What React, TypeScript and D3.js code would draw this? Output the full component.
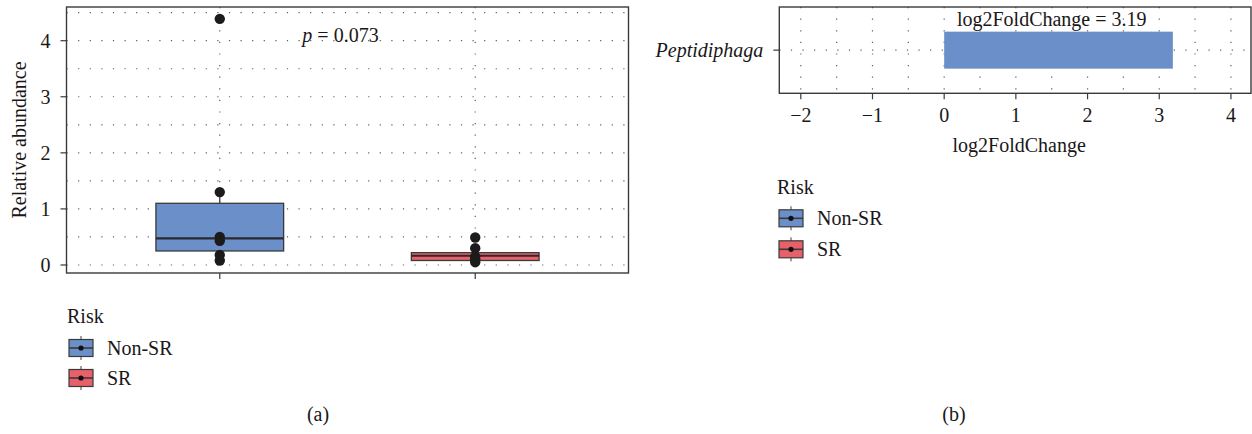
import React, { useEffect, useRef } from 'react';
import * as d3 from 'd3';

// panel (a): relative abundance by risk group
const groups = ['Non-SR', 'SR'];
const groupColors = ['#6A8FC9', '#E8606A'];
const lowerWhisker = [0.08, 0.05];
const firstQuartile = [0.25, 0.08];
const medians = [0.475, 0.165];
const thirdQuartile = [1.1, 0.22];
const upperWhisker = [1.3, 0.3];
const nonSrSamples = [4.39, 1.3, 0.5, 0.43, 0.18, 0.08];
const srSamples = [0.49, 0.3, 0.15, 0.1, 0.05];
const abundanceTicks = [0, 1, 2, 3, 4];
const pLabel = '0.073';

// panel (b): differential abundance
const genera = ['Peptidiphaga'];
const foldChanges = [3.19];
const foldTicks = [-2, -1, 0, 1, 2, 3, 4];

const FONT = '"Liberation Serif", "Times New Roman", serif';
const INK = '#1a1718';
const FRAME = '#3a3a3a';
const GRID = '#5e5e5e';

export default function App() {
    const ref = useRef<SVGSVGElement>(null);

    useEffect(() => {
        const svg = d3.select(ref.current);
        svg.selectAll('*').remove();
        svg.style('font-family', FONT).style('font-size', '20px');

        const dotted = (sel: any) =>
            sel.attr('stroke', GRID)
                .attr('stroke-width', 1.2)
                .attr('stroke-dasharray', '1.2 10.4');

        const legend = (g: any, x0: number, titleY: number, firstY: number, step: number) => {
            g.append('text')
                .attr('x', x0)
                .attr('y', titleY)
                .attr('dy', '0.35em')
                .attr('fill', INK)
                .text('Risk');
            const key = g.selectAll('g.key')
                .data(groups)
                .join('g')
                .attr('class', 'key')
                .attr('transform', (d: string, i: number) => `translate(${x0 + 2},${firstY + i * step})`);
            key.append('line')
                .attr('x1', 12).attr('x2', 12)
                .attr('y1', -12).attr('y2', 12)
                .attr('stroke', '#4a3a3a').attr('stroke-width', 1);
            key.append('rect')
                .attr('x', 0).attr('y', -8.5)
                .attr('width', 24).attr('height', 17)
                .attr('fill', (d: string, i: number) => groupColors[i])
                .attr('stroke', FRAME).attr('stroke-width', 1.2);
            key.append('line')
                .attr('x1', 0).attr('x2', 24)
                .attr('stroke', FRAME).attr('stroke-width', 1.6);
            key.append('circle')
                .attr('cx', 12).attr('r', 2.6)
                .attr('fill', '#111');
            key.append('text')
                .attr('x', 38)
                .attr('dy', '0.35em')
                .attr('fill', INK)
                .text((d: string) => d);
        };

        // ---------- panel (a) ----------
        const x = d3.scaleLinear().domain([0.4, 2.6]).range([66.5, 628.5]);
        const y = d3.scaleLinear().domain([-0.143, 4.601]).range([273, 7]);
        const a = svg.append('g');

        a.append('g')
            .selectAll('line')
            .data(d3.range(0, 4.6, 0.5))
            .join('line')
            .attr('x1', x.range()[0]).attr('x2', x.range()[1])
            .attr('y1', (d: number) => y(d)).attr('y2', (d: number) => y(d))
            .call(dotted);
        a.append('g')
            .selectAll('line')
            .data(groups)
            .join('line')
            .attr('x1', (d: string, i: number) => x(i + 1)).attr('x2', (d: string, i: number) => x(i + 1))
            .attr('y1', y.range()[1]).attr('y2', y.range()[0])
            .call(dotted);

        const boxes = a.append('g')
            .selectAll('g')
            .data(groups)
            .join('g');
        boxes.append('line')
            .attr('x1', (d: string, i: number) => x(i + 1)).attr('x2', (d: string, i: number) => x(i + 1))
            .attr('y1', (d: string, i: number) => y(lowerWhisker[i]))
            .attr('y2', (d: string, i: number) => y(upperWhisker[i]))
            .attr('stroke', FRAME).attr('stroke-width', 1.3);
        boxes.append('rect')
            .attr('x', (d: string, i: number) => x(i + 1 - 0.25))
            .attr('width', x(1.25) - x(0.75))
            .attr('y', (d: string, i: number) => y(thirdQuartile[i]))
            .attr('height', (d: string, i: number) => y(firstQuartile[i]) - y(thirdQuartile[i]))
            .attr('fill', (d: string, i: number) => groupColors[i])
            .attr('stroke', FRAME).attr('stroke-width', 1.3);
        boxes.append('line')
            .attr('x1', (d: string, i: number) => x(i + 1 - 0.25))
            .attr('x2', (d: string, i: number) => x(i + 1 + 0.25))
            .attr('y1', (d: string, i: number) => y(medians[i]))
            .attr('y2', (d: string, i: number) => y(medians[i]))
            .attr('stroke', '#2a2a2a').attr('stroke-width', 2.2);

        const samples = [nonSrSamples, srSamples].flatMap((vals, i) => vals.map((v) => ({ i, v })));
        a.append('g')
            .selectAll('circle')
            .data(samples)
            .join('circle')
            .attr('cx', (d: any) => x(d.i + 1))
            .attr('cy', (d: any) => y(d.v))
            .attr('r', 5.2)
            .attr('fill', '#1c1a1a');

        a.append('rect')
            .attr('x', x.range()[0]).attr('y', y.range()[1])
            .attr('width', x.range()[1] - x.range()[0])
            .attr('height', y.range()[0] - y.range()[1])
            .attr('fill', 'none').attr('stroke', FRAME).attr('stroke-width', 1.4);

        // y axis ticks + labels
        a.append('g')
            .selectAll('line')
            .data(abundanceTicks)
            .join('line')
            .attr('x1', x.range()[0] - 6).attr('x2', x.range()[0])
            .attr('y1', (d: number) => y(d)).attr('y2', (d: number) => y(d))
            .attr('stroke', FRAME).attr('stroke-width', 1.2);
        a.append('g')
            .selectAll('text')
            .data(abundanceTicks)
            .join('text')
            .attr('x', x.range()[0] - 16)
            .attr('y', (d: number) => y(d))
            .attr('dy', '0.35em')
            .attr('text-anchor', 'end')
            .attr('fill', INK)
            .text((d: number) => d3.format('d')(d));
        a.append('g')
            .selectAll('line')
            .data(groups)
            .join('line')
            .attr('x1', (d: string, i: number) => x(i + 1)).attr('x2', (d: string, i: number) => x(i + 1))
            .attr('y1', y.range()[0]).attr('y2', y.range()[0] + 6)
            .attr('stroke', FRAME).attr('stroke-width', 1.2);
        a.append('text')
            .attr('transform', `translate(18.5,${(y.range()[0] + y.range()[1]) / 2}) rotate(-90)`)
            .attr('dy', '0.35em')
            .attr('text-anchor', 'middle')
            .attr('fill', INK)
            .text('Relative abundance');

        const pText = a.append('text')
            .attr('x', x(1.5) - 7)
            .attr('y', y(4.1))
            .attr('dy', '0.35em')
            .attr('text-anchor', 'middle')
            .attr('fill', INK);
        pText.append('tspan').attr('font-style', 'italic').text('p');
        pText.append('tspan').text(` = ${pLabel}`);

        legend(a.append('g'), 67, 316, 348, 30);
        a.append('text')
            .attr('x', 318).attr('y', 414)
            .attr('dy', '0.35em')
            .attr('text-anchor', 'middle')
            .attr('fill', INK)
            .text('(a)');

        // ---------- panel (b) ----------
        const xb = d3.scaleLinear().domain([-2.3, 4.28]).range([779.3, 1251]);
        const yb = d3.scaleBand().domain(genera).range([7, 93.3]).padding(0.4);
        const b = svg.append('g');

        b.append('g')
            .selectAll('line')
            .data(d3.range(-2, 4.01, 0.5))
            .join('line')
            .attr('x1', (d: number) => xb(d)).attr('x2', (d: number) => xb(d))
            .attr('y1', yb.range()[0]).attr('y2', yb.range()[1])
            .call(dotted);
        b.append('g')
            .selectAll('line')
            .data(genera)
            .join('line')
            .attr('x1', xb.range()[0]).attr('x2', xb.range()[1])
            .attr('y1', (d: string) => yb(d)! + yb.bandwidth() / 2)
            .attr('y2', (d: string) => yb(d)! + yb.bandwidth() / 2)
            .call(dotted);

        b.append('g')
            .selectAll('rect')
            .data(genera)
            .join('rect')
            .attr('x', (d: string, i: number) => xb(Math.min(0, foldChanges[i])))
            .attr('width', (d: string, i: number) => Math.abs(xb(foldChanges[i]) - xb(0)))
            .attr('y', (d: string) => yb(d)!)
            .attr('height', yb.bandwidth())
            .attr('fill', groupColors[0]);

        b.append('g')
            .selectAll('text')
            .data(genera)
            .join('text')
            .attr('x', xb(1.5))
            .attr('y', (d: string) => yb(d)! - 13)
            .attr('dy', '0.35em')
            .attr('text-anchor', 'middle')
            .attr('fill', INK)
            .text((d: string, i: number) => `log2FoldChange = ${foldChanges[i]}`);

        b.append('rect')
            .attr('x', xb.range()[0]).attr('y', yb.range()[0])
            .attr('width', xb.range()[1] - xb.range()[0])
            .attr('height', yb.range()[1] - yb.range()[0])
            .attr('fill', 'none').attr('stroke', FRAME).attr('stroke-width', 1.4);

        b.append('g')
            .selectAll('line')
            .data(foldTicks)
            .join('line')
            .attr('x1', (d: number) => xb(d)).attr('x2', (d: number) => xb(d))
            .attr('y1', yb.range()[1]).attr('y2', yb.range()[1] + 6)
            .attr('stroke', FRAME).attr('stroke-width', 1.2);
        b.append('g')
            .selectAll('text')
            .data(foldTicks)
            .join('text')
            .attr('x', (d: number) => xb(d))
            .attr('y', 115)
            .attr('dy', '0.35em')
            .attr('text-anchor', 'middle')
            .attr('fill', INK)
            .text((d: number) => d3.format('d')(d));
        b.append('g')
            .selectAll('line')
            .data(genera)
            .join('line')
            .attr('x1', xb.range()[0] - 6).attr('x2', xb.range()[0])
            .attr('y1', (d: string) => yb(d)! + yb.bandwidth() / 2)
            .attr('y2', (d: string) => yb(d)! + yb.bandwidth() / 2)
            .attr('stroke', FRAME).attr('stroke-width', 1.2);
        b.append('g')
            .selectAll('text')
            .data(genera)
            .join('text')
            .attr('x', xb.range()[0] - 16)
            .attr('y', (d: string) => yb(d)! + yb.bandwidth() / 2)
            .attr('dy', '0.35em')
            .attr('text-anchor', 'end')
            .attr('font-style', 'italic')
            .attr('fill', INK)
            .text((d: string) => d);
        b.append('text')
            .attr('x', (xb.range()[0] + xb.range()[1]) / 2 + 4)
            .attr('y', 145)
            .attr('dy', '0.35em')
            .attr('text-anchor', 'middle')
            .attr('fill', INK)
            .text('log2FoldChange');

        legend(b.append('g'), 777, 186.7, 218.3, 31);
        b.append('text')
            .attr('x', 954).attr('y', 414)
            .attr('dy', '0.35em')
            .attr('text-anchor', 'middle')
            .attr('fill', INK)
            .text('(b)');
    }, []);

    return (
        <svg
            ref={ref}
            width={1252}
            height={434}
            style={{ position: 'absolute', left: 0, top: 0, background: '#fff' }}
        />
    );
}
